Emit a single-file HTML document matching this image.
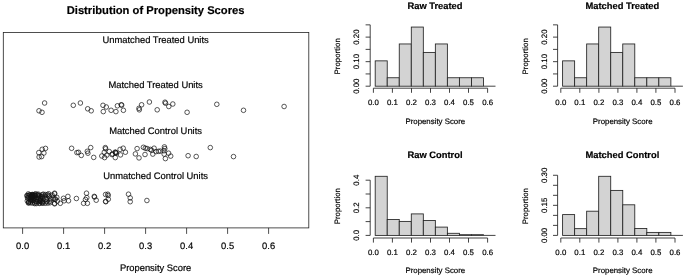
<!DOCTYPE html><html><head><meta charset="utf-8"><title>Distribution of Propensity Scores</title>
<style>html,body{margin:0;padding:0;background:#fff;}svg{display:block;filter:blur(0.5px);font-family:"Liberation Sans",Arial,sans-serif;}text{fill:#000;stroke:#000;stroke-width:0.18px;text-rendering:geometricPrecision;}</style></head><body>
<svg width="685" height="278" viewBox="0 0 685 278">
<rect x="0" y="0" width="685" height="278" fill="#fff"/>
<text x="155.6" y="13.6" font-size="11.2" font-weight="bold" text-anchor="middle">Distribution of Propensity Scores</text>
<rect x="3.3" y="32.4" width="305.5" height="195.5" fill="none" stroke="#222" stroke-width="0.8"/>
<text x="155.6" y="43.2" font-size="9.4" text-anchor="middle">Unmatched Treated Units</text>
<text x="155.6" y="88.4" font-size="9.4" text-anchor="middle">Matched Treated Units</text>
<text x="155.6" y="133.5" font-size="9.4" text-anchor="middle">Matched Control Units</text>
<text x="155.6" y="178.8" font-size="9.4" text-anchor="middle">Unmatched Control Units</text>
<line x1="22.6" y1="227.9" x2="22.6" y2="233.9" stroke="#222" stroke-width="0.8"/>
<text x="22.6" y="248.6" font-size="9.4" text-anchor="middle">0.0</text>
<line x1="63.6" y1="227.9" x2="63.6" y2="233.9" stroke="#222" stroke-width="0.8"/>
<text x="63.6" y="248.6" font-size="9.4" text-anchor="middle">0.1</text>
<line x1="104.6" y1="227.9" x2="104.6" y2="233.9" stroke="#222" stroke-width="0.8"/>
<text x="104.6" y="248.6" font-size="9.4" text-anchor="middle">0.2</text>
<line x1="145.6" y1="227.9" x2="145.6" y2="233.9" stroke="#222" stroke-width="0.8"/>
<text x="145.6" y="248.6" font-size="9.4" text-anchor="middle">0.3</text>
<line x1="186.6" y1="227.9" x2="186.6" y2="233.9" stroke="#222" stroke-width="0.8"/>
<text x="186.6" y="248.6" font-size="9.4" text-anchor="middle">0.4</text>
<line x1="227.6" y1="227.9" x2="227.6" y2="233.9" stroke="#222" stroke-width="0.8"/>
<text x="227.6" y="248.6" font-size="9.4" text-anchor="middle">0.5</text>
<line x1="268.6" y1="227.9" x2="268.6" y2="233.9" stroke="#222" stroke-width="0.8"/>
<text x="268.6" y="248.6" font-size="9.4" text-anchor="middle">0.6</text>
<text x="155.6" y="271" font-size="9.4" text-anchor="middle">Propensity Score</text>
<g fill="none" stroke="#111" stroke-width="0.7">
<circle cx="44.6" cy="103" r="2.3"/><circle cx="39" cy="110.8" r="2.3"/><circle cx="42" cy="112.3" r="2.3"/><circle cx="73.3" cy="105.3" r="2.3"/><circle cx="80.4" cy="103" r="2.3"/><circle cx="87.7" cy="108.8" r="2.3"/><circle cx="91.2" cy="110.8" r="2.3"/><circle cx="103" cy="105.3" r="2.3"/><circle cx="106.3" cy="107" r="2.3"/><circle cx="103.3" cy="111.6" r="2.3"/><circle cx="111.1" cy="110.3" r="2.3"/><circle cx="115.9" cy="111.6" r="2.3"/><circle cx="117.4" cy="105.8" r="2.3"/><circle cx="121.2" cy="104.8" r="2.3"/><circle cx="121.7" cy="105.1" r="2.3"/><circle cx="123.4" cy="110.3" r="2.3"/><circle cx="139" cy="108.3" r="2.3"/><circle cx="139.3" cy="109.8" r="2.3"/><circle cx="141.6" cy="104.8" r="2.3"/><circle cx="149.4" cy="102" r="2.3"/><circle cx="157.2" cy="109.8" r="2.3"/><circle cx="165" cy="102.2" r="2.3"/><circle cx="165.5" cy="103.2" r="2.3"/><circle cx="168.8" cy="106.5" r="2.3"/><circle cx="172.8" cy="104" r="2.3"/><circle cx="187.1" cy="112.3" r="2.3"/><circle cx="216.8" cy="104.3" r="2.3"/><circle cx="243.5" cy="110.3" r="2.3"/><circle cx="284.1" cy="106.5" r="2.3"/>
</g>
<g fill="none" stroke="#111" stroke-width="0.7">
<circle cx="45.5" cy="148.4" r="2.3"/><circle cx="42.2" cy="149.3" r="2.3"/><circle cx="38.8" cy="152.6" r="2.3"/><circle cx="43.9" cy="153" r="2.3"/><circle cx="39.1" cy="157" r="2.3"/><circle cx="41.6" cy="156.6" r="2.3"/><circle cx="71.6" cy="148.3" r="2.3"/><circle cx="76.9" cy="152.6" r="2.3"/><circle cx="78.5" cy="152.3" r="2.3"/><circle cx="81.3" cy="155.4" r="2.3"/><circle cx="90.7" cy="147.6" r="2.3"/><circle cx="87.3" cy="151.3" r="2.3"/><circle cx="87.9" cy="153.2" r="2.3"/><circle cx="93.7" cy="157.4" r="2.3"/><circle cx="105.3" cy="147.6" r="2.3"/><circle cx="105.6" cy="148.8" r="2.3"/><circle cx="104.3" cy="152.3" r="2.3"/><circle cx="109.3" cy="151.6" r="2.3"/><circle cx="101.8" cy="156" r="2.3"/><circle cx="106.8" cy="155.1" r="2.3"/><circle cx="104.6" cy="157.6" r="2.3"/><circle cx="112.5" cy="153.9" r="2.3"/><circle cx="115.6" cy="152.6" r="2.3"/><circle cx="115.7" cy="152.6" r="2.3"/><circle cx="115.2" cy="152.1" r="2.3"/><circle cx="116.3" cy="153.2" r="2.3"/><circle cx="111.9" cy="154.5" r="2.3"/><circle cx="115.3" cy="157.6" r="2.3"/><circle cx="120.1" cy="149.4" r="2.3"/><circle cx="123.2" cy="148.2" r="2.3"/><circle cx="120.5" cy="154.9" r="2.3"/><circle cx="125.4" cy="152.2" r="2.3"/><circle cx="137.1" cy="148.6" r="2.3"/><circle cx="135.4" cy="153.9" r="2.3"/><circle cx="139" cy="157.9" r="2.3"/><circle cx="145" cy="154.5" r="2.3"/><circle cx="143.4" cy="147.3" r="2.3"/><circle cx="145.3" cy="148.2" r="2.3"/><circle cx="147.2" cy="148.6" r="2.3"/><circle cx="150.3" cy="149.4" r="2.3"/><circle cx="151.6" cy="150.3" r="2.3"/><circle cx="154.1" cy="148.2" r="2.3"/><circle cx="152.8" cy="154.1" r="2.3"/><circle cx="156" cy="151.6" r="2.3"/><circle cx="158.5" cy="151.3" r="2.3"/><circle cx="160.4" cy="151.1" r="2.3"/><circle cx="164.4" cy="146.9" r="2.3"/><circle cx="164.8" cy="148.6" r="2.3"/><circle cx="163.9" cy="150.7" r="2.3"/><circle cx="164.2" cy="154.1" r="2.3"/><circle cx="168.6" cy="153.2" r="2.3"/><circle cx="170.7" cy="156.1" r="2.3"/><circle cx="165.4" cy="158.6" r="2.3"/><circle cx="188.1" cy="155.7" r="2.3"/><circle cx="196.2" cy="156.5" r="2.3"/><circle cx="210.3" cy="147.6" r="2.3"/><circle cx="233.5" cy="156.6" r="2.3"/>
</g>
<g fill="none" stroke="#111" stroke-width="0.7">
<circle cx="54.6" cy="193.2" r="2.3"/><circle cx="55.3" cy="198.9" r="2.3"/><circle cx="54.6" cy="203.3" r="2.3"/><circle cx="60.3" cy="203.3" r="2.3"/><circle cx="63.5" cy="198.3" r="2.3"/><circle cx="67.9" cy="196.4" r="2.3"/><circle cx="64.1" cy="200.8" r="2.3"/><circle cx="68.5" cy="200.8" r="2.3"/><circle cx="76.4" cy="198.5" r="2.3"/><circle cx="86.5" cy="193.2" r="2.3"/><circle cx="86.8" cy="197.6" r="2.3"/><circle cx="85.5" cy="199.5" r="2.3"/><circle cx="83.6" cy="203.3" r="2.3"/><circle cx="87.4" cy="203.3" r="2.3"/><circle cx="94.3" cy="196.4" r="2.3"/><circle cx="94.5" cy="197" r="2.3"/><circle cx="96.2" cy="200.2" r="2.3"/><circle cx="105.6" cy="194.5" r="2.3"/><circle cx="105.6" cy="201.4" r="2.3"/><circle cx="107.8" cy="194.2" r="2.3"/><circle cx="108.2" cy="195.5" r="2.3"/><circle cx="108.3" cy="199.2" r="2.3"/><circle cx="105.8" cy="201.7" r="2.3"/><circle cx="128.5" cy="194.2" r="2.3"/><circle cx="130.2" cy="197.9" r="2.3"/><circle cx="130.2" cy="201.7" r="2.3"/><circle cx="146.9" cy="200.5" r="2.3"/><circle cx="54.6" cy="193.8" r="2.3"/><circle cx="55" cy="199.4" r="2.3"/><circle cx="54.6" cy="203.8" r="2.3"/><circle cx="56.8" cy="197.3" r="2.3"/><circle cx="53.3" cy="198.1" r="2.3"/><circle cx="52.2" cy="195.1" r="2.3"/><circle cx="57.3" cy="201.2" r="2.3"/><circle cx="26.8" cy="195.7" r="2.3"/><circle cx="27.5" cy="197.9" r="2.3"/><circle cx="27.3" cy="200.9" r="2.3"/><circle cx="28.3" cy="193.9" r="2.3"/><circle cx="28.2" cy="196.2" r="2.3"/><circle cx="28.3" cy="198.0" r="2.3"/><circle cx="29.1" cy="201.7" r="2.3"/><circle cx="28.4" cy="203.0" r="2.3"/><circle cx="31.6" cy="194.7" r="2.3"/><circle cx="31.5" cy="196.1" r="2.3"/><circle cx="32.3" cy="197.9" r="2.3"/><circle cx="32.1" cy="200.7" r="2.3"/><circle cx="30.5" cy="202.8" r="2.3"/><circle cx="32.9" cy="194.5" r="2.3"/><circle cx="32.6" cy="196.4" r="2.3"/><circle cx="33.7" cy="198.5" r="2.3"/><circle cx="33.5" cy="200.3" r="2.3"/><circle cx="32.4" cy="203.0" r="2.3"/><circle cx="35.8" cy="193.8" r="2.3"/><circle cx="35.0" cy="196.5" r="2.3"/><circle cx="35.3" cy="198.3" r="2.3"/><circle cx="36.0" cy="201.5" r="2.3"/><circle cx="34.8" cy="203.6" r="2.3"/><circle cx="37.5" cy="194.6" r="2.3"/><circle cx="38.0" cy="195.9" r="2.3"/><circle cx="38.5" cy="198.0" r="2.3"/><circle cx="37.3" cy="201.6" r="2.3"/><circle cx="36.7" cy="203.5" r="2.3"/><circle cx="38.5" cy="194.2" r="2.3"/><circle cx="40.1" cy="196.4" r="2.3"/><circle cx="40.3" cy="198.4" r="2.3"/><circle cx="39.9" cy="201.3" r="2.3"/><circle cx="39.7" cy="203.4" r="2.3"/><circle cx="42.3" cy="194.7" r="2.3"/><circle cx="41.5" cy="196.6" r="2.3"/><circle cx="40.6" cy="199.1" r="2.3"/><circle cx="41.9" cy="202.0" r="2.3"/><circle cx="42.3" cy="203.1" r="2.3"/><circle cx="43.3" cy="194.2" r="2.3"/><circle cx="42.5" cy="196.2" r="2.3"/><circle cx="42.9" cy="198.0" r="2.3"/><circle cx="42.6" cy="201.6" r="2.3"/><circle cx="42.8" cy="203.0" r="2.3"/><circle cx="45.4" cy="194.6" r="2.3"/><circle cx="44.7" cy="196.2" r="2.3"/><circle cx="45.8" cy="199.4" r="2.3"/><circle cx="46.4" cy="201.8" r="2.3"/><circle cx="45.2" cy="203.3" r="2.3"/><circle cx="47.4" cy="194.6" r="2.3"/><circle cx="48.7" cy="195.7" r="2.3"/><circle cx="47.0" cy="198.2" r="2.3"/><circle cx="47.1" cy="201.1" r="2.3"/><circle cx="47.9" cy="203.1" r="2.3"/><circle cx="48.7" cy="193.8" r="2.3"/><circle cx="49.5" cy="196.4" r="2.3"/><circle cx="50.7" cy="199.0" r="2.3"/><circle cx="49.8" cy="201.3" r="2.3"/><circle cx="50.1" cy="202.7" r="2.3"/><circle cx="40.7" cy="201.1" r="2.3"/><circle cx="40.1" cy="201.2" r="2.3"/><circle cx="33.0" cy="197.7" r="2.3"/><circle cx="30.1" cy="199.8" r="2.3"/><circle cx="29.5" cy="194.8" r="2.3"/><circle cx="31.2" cy="195.6" r="2.3"/><circle cx="32.5" cy="194.7" r="2.3"/><circle cx="27.6" cy="195.5" r="2.3"/><circle cx="30.1" cy="197.4" r="2.3"/><circle cx="28.8" cy="201.9" r="2.3"/><circle cx="35.7" cy="195.5" r="2.3"/><circle cx="31.6" cy="197.3" r="2.3"/><circle cx="32.7" cy="195.3" r="2.3"/><circle cx="39.5" cy="202.9" r="2.3"/><circle cx="33.8" cy="198.5" r="2.3"/><circle cx="29.9" cy="195.1" r="2.3"/><circle cx="32.5" cy="196.5" r="2.3"/><circle cx="39.1" cy="195.6" r="2.3"/><circle cx="28.7" cy="202.6" r="2.3"/><circle cx="34.6" cy="195.5" r="2.3"/><circle cx="34.7" cy="194.4" r="2.3"/><circle cx="34.6" cy="202.8" r="2.3"/><circle cx="39.8" cy="200.3" r="2.3"/><circle cx="31.7" cy="197.4" r="2.3"/><circle cx="30.8" cy="201.0" r="2.3"/><circle cx="34.6" cy="201.1" r="2.3"/>
</g>
<text x="435.0" y="8.6" font-size="9.35" font-weight="bold" text-anchor="middle">Raw Treated</text>
<g fill="#d3d3d3" stroke="#222" stroke-width="0.85">
<rect x="375.20" y="60.86" width="12.03" height="25.34"/>
<rect x="387.23" y="77.75" width="12.03" height="8.45"/>
<rect x="399.26" y="43.96" width="12.03" height="42.24"/>
<rect x="411.29" y="27.06" width="12.03" height="59.14"/>
<rect x="423.32" y="52.41" width="12.03" height="33.79"/>
<rect x="435.35" y="43.96" width="12.03" height="42.24"/>
<rect x="447.38" y="77.75" width="12.03" height="8.45"/>
<rect x="459.41" y="77.75" width="12.03" height="8.45"/>
<rect x="471.44" y="77.75" width="12.03" height="8.45"/>
<line x1="483.47" y1="86.2" x2="495.50" y2="86.2"/>
</g>
<g stroke="#222" stroke-width="0.85" fill="none">
<line x1="370.2" y1="86.2" x2="370.2" y2="24.85000000000001"/>
<line x1="365.6" y1="86.2" x2="370.2" y2="86.2"/>
<line x1="365.6" y1="73.93" x2="370.2" y2="73.93"/>
<line x1="365.6" y1="61.660000000000004" x2="370.2" y2="61.660000000000004"/>
<line x1="365.6" y1="49.39" x2="370.2" y2="49.39"/>
<line x1="365.6" y1="37.120000000000005" x2="370.2" y2="37.120000000000005"/>
<line x1="365.6" y1="24.85000000000001" x2="370.2" y2="24.85000000000001"/>
<line x1="373.4" y1="88.2" x2="487.6" y2="88.2"/>
<line x1="373.4" y1="88.2" x2="373.4" y2="92.8"/>
<line x1="392.4" y1="88.2" x2="392.4" y2="92.8"/>
<line x1="411.5" y1="88.2" x2="411.5" y2="92.8"/>
<line x1="430.5" y1="88.2" x2="430.5" y2="92.8"/>
<line x1="449.5" y1="88.2" x2="449.5" y2="92.8"/>
<line x1="468.5" y1="88.2" x2="468.5" y2="92.8"/>
<line x1="487.6" y1="88.2" x2="487.6" y2="92.8"/>
</g>
<text x="373.4" y="105.0" font-size="7.85" text-anchor="middle">0.0</text>
<text x="392.4" y="105.0" font-size="7.85" text-anchor="middle">0.1</text>
<text x="411.5" y="105.0" font-size="7.85" text-anchor="middle">0.2</text>
<text x="430.5" y="105.0" font-size="7.85" text-anchor="middle">0.3</text>
<text x="449.5" y="105.0" font-size="7.85" text-anchor="middle">0.4</text>
<text x="468.5" y="105.0" font-size="7.85" text-anchor="middle">0.5</text>
<text x="487.6" y="105.0" font-size="7.85" text-anchor="middle">0.6</text>
<text x="435.3" y="123.6" font-size="7.85" text-anchor="middle">Propensity Score</text>
<text transform="translate(359.2,86.2) rotate(-90)" font-size="7.85" text-anchor="middle">0.00</text>
<text transform="translate(359.2,61.6) rotate(-90)" font-size="7.85" text-anchor="middle">0.10</text>
<text transform="translate(359.2,37.1) rotate(-90)" font-size="7.85" text-anchor="middle">0.20</text>
<text transform="translate(340.4,56.3) rotate(-90)" font-size="7.85" text-anchor="middle">Proportion</text>
<text x="622.4" y="8.6" font-size="9.35" font-weight="bold" text-anchor="middle">Matched Treated</text>
<g fill="#d3d3d3" stroke="#222" stroke-width="0.85">
<rect x="562.60" y="60.86" width="12.03" height="25.34"/>
<rect x="574.63" y="77.75" width="12.03" height="8.45"/>
<rect x="586.66" y="43.96" width="12.03" height="42.24"/>
<rect x="598.69" y="27.06" width="12.03" height="59.14"/>
<rect x="610.72" y="52.41" width="12.03" height="33.79"/>
<rect x="622.75" y="43.96" width="12.03" height="42.24"/>
<rect x="634.78" y="77.75" width="12.03" height="8.45"/>
<rect x="646.81" y="77.75" width="12.03" height="8.45"/>
<rect x="658.84" y="77.75" width="12.03" height="8.45"/>
<line x1="670.87" y1="86.2" x2="682.90" y2="86.2"/>
</g>
<g stroke="#222" stroke-width="0.85" fill="none">
<line x1="557.6" y1="86.2" x2="557.6" y2="24.85000000000001"/>
<line x1="553.0" y1="86.2" x2="557.6" y2="86.2"/>
<line x1="553.0" y1="73.93" x2="557.6" y2="73.93"/>
<line x1="553.0" y1="61.660000000000004" x2="557.6" y2="61.660000000000004"/>
<line x1="553.0" y1="49.39" x2="557.6" y2="49.39"/>
<line x1="553.0" y1="37.120000000000005" x2="557.6" y2="37.120000000000005"/>
<line x1="553.0" y1="24.85000000000001" x2="557.6" y2="24.85000000000001"/>
<line x1="560.8" y1="88.2" x2="675.0" y2="88.2"/>
<line x1="560.8" y1="88.2" x2="560.8" y2="92.8"/>
<line x1="579.8" y1="88.2" x2="579.8" y2="92.8"/>
<line x1="598.9" y1="88.2" x2="598.9" y2="92.8"/>
<line x1="617.9" y1="88.2" x2="617.9" y2="92.8"/>
<line x1="636.9" y1="88.2" x2="636.9" y2="92.8"/>
<line x1="655.9" y1="88.2" x2="655.9" y2="92.8"/>
<line x1="675.0" y1="88.2" x2="675.0" y2="92.8"/>
</g>
<text x="560.8" y="105.0" font-size="7.85" text-anchor="middle">0.0</text>
<text x="579.8" y="105.0" font-size="7.85" text-anchor="middle">0.1</text>
<text x="598.9" y="105.0" font-size="7.85" text-anchor="middle">0.2</text>
<text x="617.9" y="105.0" font-size="7.85" text-anchor="middle">0.3</text>
<text x="636.9" y="105.0" font-size="7.85" text-anchor="middle">0.4</text>
<text x="655.9" y="105.0" font-size="7.85" text-anchor="middle">0.5</text>
<text x="675.0" y="105.0" font-size="7.85" text-anchor="middle">0.6</text>
<text x="622.7" y="123.6" font-size="7.85" text-anchor="middle">Propensity Score</text>
<text transform="translate(546.6,86.2) rotate(-90)" font-size="7.85" text-anchor="middle">0.00</text>
<text transform="translate(546.6,61.6) rotate(-90)" font-size="7.85" text-anchor="middle">0.10</text>
<text transform="translate(546.6,37.1) rotate(-90)" font-size="7.85" text-anchor="middle">0.20</text>
<text transform="translate(527.8,56.3) rotate(-90)" font-size="7.85" text-anchor="middle">Proportion</text>
<text x="435.0" y="158.1" font-size="9.35" font-weight="bold" text-anchor="middle">Raw Control</text>
<g fill="#d3d3d3" stroke="#222" stroke-width="0.85">
<rect x="375.20" y="176.30" width="12.03" height="59.10"/>
<rect x="387.23" y="219.45" width="12.03" height="15.95"/>
<rect x="399.26" y="221.40" width="12.03" height="14.00"/>
<rect x="411.29" y="213.90" width="12.03" height="21.50"/>
<rect x="423.32" y="220.50" width="12.03" height="14.90"/>
<rect x="435.35" y="227.10" width="12.03" height="8.30"/>
<rect x="447.38" y="233.30" width="12.03" height="2.10"/>
<rect x="459.41" y="234.70" width="12.03" height="0.70"/>
<rect x="471.44" y="234.70" width="12.03" height="0.70"/>
<line x1="483.47" y1="235.4" x2="495.50" y2="235.4"/>
</g>
<g stroke="#222" stroke-width="0.85" fill="none">
<line x1="370.2" y1="235.4" x2="370.2" y2="180.2"/>
<line x1="365.6" y1="235.4" x2="370.2" y2="235.4"/>
<line x1="365.6" y1="221.6" x2="370.2" y2="221.6"/>
<line x1="365.6" y1="207.8" x2="370.2" y2="207.8"/>
<line x1="365.6" y1="194.0" x2="370.2" y2="194.0"/>
<line x1="365.6" y1="180.2" x2="370.2" y2="180.2"/>
<line x1="373.4" y1="238.0" x2="487.6" y2="238.0"/>
<line x1="373.4" y1="238.0" x2="373.4" y2="242.6"/>
<line x1="392.4" y1="238.0" x2="392.4" y2="242.6"/>
<line x1="411.5" y1="238.0" x2="411.5" y2="242.6"/>
<line x1="430.5" y1="238.0" x2="430.5" y2="242.6"/>
<line x1="449.5" y1="238.0" x2="449.5" y2="242.6"/>
<line x1="468.5" y1="238.0" x2="468.5" y2="242.6"/>
<line x1="487.6" y1="238.0" x2="487.6" y2="242.6"/>
</g>
<text x="373.4" y="255.3" font-size="7.85" text-anchor="middle">0.0</text>
<text x="392.4" y="255.3" font-size="7.85" text-anchor="middle">0.1</text>
<text x="411.5" y="255.3" font-size="7.85" text-anchor="middle">0.2</text>
<text x="430.5" y="255.3" font-size="7.85" text-anchor="middle">0.3</text>
<text x="449.5" y="255.3" font-size="7.85" text-anchor="middle">0.4</text>
<text x="468.5" y="255.3" font-size="7.85" text-anchor="middle">0.5</text>
<text x="487.6" y="255.3" font-size="7.85" text-anchor="middle">0.6</text>
<text x="435.3" y="273.0" font-size="7.85" text-anchor="middle">Propensity Score</text>
<text transform="translate(359.2,235.4) rotate(-90)" font-size="7.85" text-anchor="middle">0.0</text>
<text transform="translate(359.2,207.8) rotate(-90)" font-size="7.85" text-anchor="middle">0.2</text>
<text transform="translate(359.2,180.2) rotate(-90)" font-size="7.85" text-anchor="middle">0.4</text>
<text transform="translate(340.4,206.2) rotate(-90)" font-size="7.85" text-anchor="middle">Proportion</text>
<text x="622.4" y="158.1" font-size="9.35" font-weight="bold" text-anchor="middle">Matched Control</text>
<g fill="#d3d3d3" stroke="#222" stroke-width="0.85">
<rect x="562.60" y="214.60" width="12.03" height="20.80"/>
<rect x="574.63" y="228.65" width="12.03" height="6.75"/>
<rect x="586.66" y="211.20" width="12.03" height="24.20"/>
<rect x="598.69" y="176.30" width="12.03" height="59.10"/>
<rect x="610.72" y="190.40" width="12.03" height="45.00"/>
<rect x="622.75" y="204.80" width="12.03" height="30.60"/>
<rect x="634.78" y="228.50" width="12.03" height="6.90"/>
<rect x="646.81" y="232.40" width="12.03" height="3.00"/>
<rect x="658.84" y="232.40" width="12.03" height="3.00"/>
<line x1="670.87" y1="235.4" x2="682.90" y2="235.4"/>
</g>
<g stroke="#222" stroke-width="0.85" fill="none">
<line x1="557.6" y1="235.4" x2="557.6" y2="175.28"/>
<line x1="553.0" y1="235.4" x2="557.6" y2="235.4"/>
<line x1="553.0" y1="225.38" x2="557.6" y2="225.38"/>
<line x1="553.0" y1="215.36" x2="557.6" y2="215.36"/>
<line x1="553.0" y1="205.34" x2="557.6" y2="205.34"/>
<line x1="553.0" y1="195.32" x2="557.6" y2="195.32"/>
<line x1="553.0" y1="185.3" x2="557.6" y2="185.3"/>
<line x1="553.0" y1="175.28" x2="557.6" y2="175.28"/>
<line x1="560.8" y1="238.0" x2="675.0" y2="238.0"/>
<line x1="560.8" y1="238.0" x2="560.8" y2="242.6"/>
<line x1="579.8" y1="238.0" x2="579.8" y2="242.6"/>
<line x1="598.9" y1="238.0" x2="598.9" y2="242.6"/>
<line x1="617.9" y1="238.0" x2="617.9" y2="242.6"/>
<line x1="636.9" y1="238.0" x2="636.9" y2="242.6"/>
<line x1="655.9" y1="238.0" x2="655.9" y2="242.6"/>
<line x1="675.0" y1="238.0" x2="675.0" y2="242.6"/>
</g>
<text x="560.8" y="255.3" font-size="7.85" text-anchor="middle">0.0</text>
<text x="579.8" y="255.3" font-size="7.85" text-anchor="middle">0.1</text>
<text x="598.9" y="255.3" font-size="7.85" text-anchor="middle">0.2</text>
<text x="617.9" y="255.3" font-size="7.85" text-anchor="middle">0.3</text>
<text x="636.9" y="255.3" font-size="7.85" text-anchor="middle">0.4</text>
<text x="655.9" y="255.3" font-size="7.85" text-anchor="middle">0.5</text>
<text x="675.0" y="255.3" font-size="7.85" text-anchor="middle">0.6</text>
<text x="622.7" y="273.0" font-size="7.85" text-anchor="middle">Propensity Score</text>
<text transform="translate(546.6,235.4) rotate(-90)" font-size="7.85" text-anchor="middle">0.00</text>
<text transform="translate(546.6,205.3) rotate(-90)" font-size="7.85" text-anchor="middle">0.15</text>
<text transform="translate(546.6,175.3) rotate(-90)" font-size="7.85" text-anchor="middle">0.30</text>
<text transform="translate(527.8,206.2) rotate(-90)" font-size="7.85" text-anchor="middle">Proportion</text>
</svg></body></html>
